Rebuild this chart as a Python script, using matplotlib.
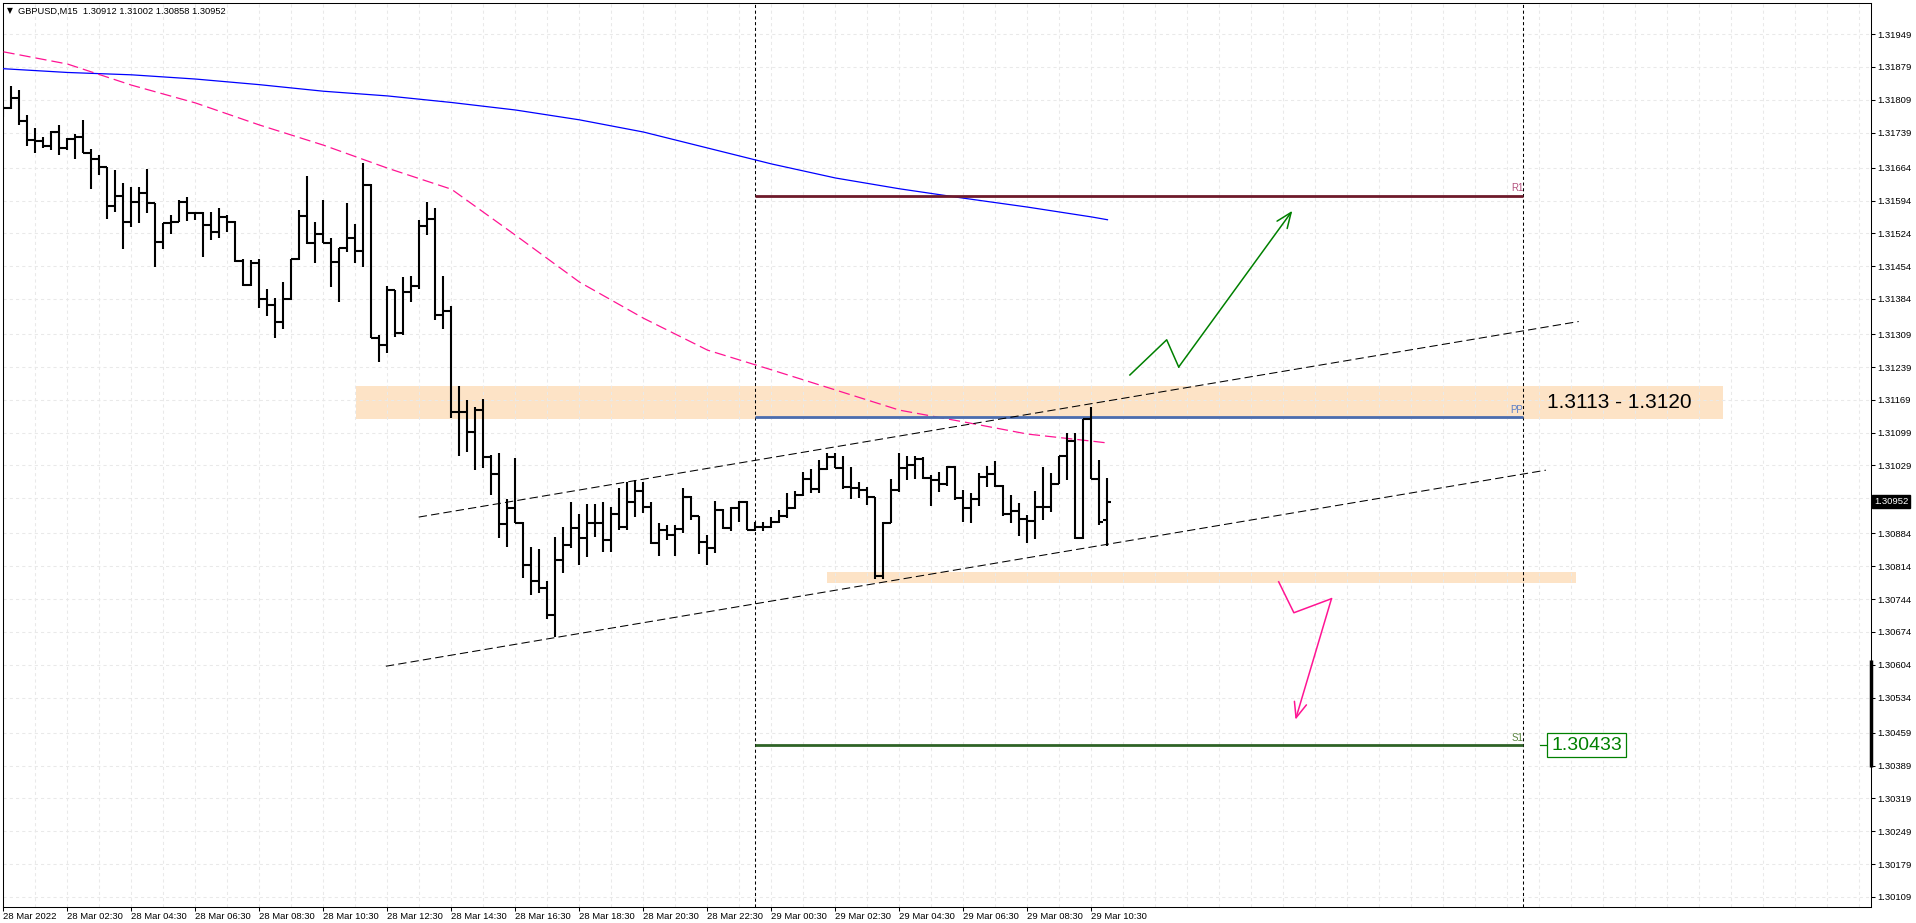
import matplotlib
matplotlib.use("Agg")
import matplotlib.pyplot as plt
from matplotlib.collections import LineCollection
from matplotlib.patches import Rectangle
from matplotlib.transforms import blended_transform_factory

plt.rcParams['font.family'] = ['Liberation Sans', 'DejaVu Sans']

# ---- data (GBPUSD M15) ----
header = "GBPUSD,M15  1.30912 1.31002 1.30858 1.30952"

opens = [1.31778, 1.31791, 1.31813, 1.31764, 1.31723, 1.31721, 1.31710, 1.31740, 1.31706, 1.31725,
         1.31729, 1.31695, 1.31682, 1.31665, 1.31582, 1.31604, 1.31548, 1.31591, 1.31610, 1.31589,
         1.31506, 1.31546, 1.31548, 1.31591, 1.31567, 1.31567, 1.31542, 1.31527, 1.31559, 1.31548,
         1.31465, 1.31414, 1.31461, 1.31384, 1.31371, 1.31335, 1.31384, 1.31469, 1.31561, 1.31503,
         1.31523, 1.31503, 1.31463, 1.31493, 1.31514, 1.31486, 1.31627, 1.31301, 1.31286, 1.31403,
         1.31311, 1.31399, 1.31412, 1.31540, 1.31555, 1.31350, 1.31358, 1.31144, 1.31144, 1.31100,
         1.31147, 1.31047, 1.31011, 1.30904, 1.30938, 1.30906, 1.30817, 1.30783, 1.30768, 1.30710,
         1.30827, 1.30859, 1.30896, 1.30874, 1.30906, 1.30906, 1.30870, 1.30926, 1.30898, 1.30951,
         1.30975, 1.30940, 1.30864, 1.30891, 1.30881, 1.30894, 1.30962, 1.30921, 1.30866, 1.30853,
         1.30934, 1.30896, 1.30938, 1.30951, 1.30891, 1.30898, 1.30898, 1.30909, 1.30921, 1.30938,
         1.30966, 1.31000, 1.30979, 1.31022, 1.31047, 1.31024, 1.30983, 1.30981, 1.30977, 1.30962,
         1.30793, 1.30906, 1.30977, 1.31024, 1.31030, 1.31043, 1.31002, 1.30998, 1.30990, 1.31026,
         1.30960, 1.30938, 1.30958, 1.31004, 1.31011, 1.30985, 1.30926, 1.30932, 1.30915, 1.30911,
         1.30940, 1.30940, 1.30990, 1.31049, 1.31081, 1.30874, 1.31128, 1.31000, 1.30912]
highs = [1.31796, 1.31838, 1.31830, 1.31776, 1.31749, 1.31729, 1.31742, 1.31755, 1.31727, 1.31736,
         1.31766, 1.31704, 1.31691, 1.31665, 1.31659, 1.31631, 1.31623, 1.31623, 1.31661, 1.31589,
         1.31546, 1.31563, 1.31595, 1.31601, 1.31569, 1.31569, 1.31569, 1.31578, 1.31563, 1.31550,
         1.31469, 1.31467, 1.31469, 1.31405, 1.31386, 1.31420, 1.31469, 1.31574, 1.31646, 1.31548,
         1.31595, 1.31514, 1.31493, 1.31589, 1.31544, 1.31674, 1.31629, 1.31307, 1.31412, 1.31403,
         1.31431, 1.31433, 1.31552, 1.31591, 1.31578, 1.31433, 1.31369, 1.31198, 1.31169, 1.31154,
         1.31171, 1.31051, 1.31056, 1.30958, 1.31045, 1.30909, 1.30855, 1.30851, 1.30783, 1.30876,
         1.30898, 1.30951, 1.30926, 1.30947, 1.30947, 1.30951, 1.30940, 1.30981, 1.30994, 1.30998,
         1.30994, 1.30951, 1.30906, 1.30902, 1.30902, 1.30981, 1.30964, 1.30921, 1.30881, 1.30953,
         1.30936, 1.30940, 1.30953, 1.30953, 1.30909, 1.30909, 1.30919, 1.30934, 1.30970, 1.30975,
         1.31015, 1.31022, 1.31041, 1.31056, 1.31056, 1.31049, 1.31026, 1.30994, 1.30983, 1.30962,
         1.30909, 1.31000, 1.31056, 1.31049, 1.31049, 1.31047, 1.31009, 1.31015, 1.31028, 1.31028,
         1.30977, 1.30970, 1.31013, 1.31028, 1.31039, 1.30987, 1.30966, 1.30949, 1.30923, 1.30975,
         1.31026, 1.31013, 1.31049, 1.31098, 1.31098, 1.31128, 1.31154, 1.31041, 1.31002]
lows = [1.31772, 1.31789, 1.31755, 1.31710, 1.31695, 1.31706, 1.31702, 1.31691, 1.31702, 1.31682,
        1.31695, 1.31619, 1.31648, 1.31555, 1.31569, 1.31491, 1.31537, 1.31546, 1.31567, 1.31452,
        1.31491, 1.31523, 1.31548, 1.31550, 1.31552, 1.31474, 1.31510, 1.31514, 1.31527, 1.31463,
        1.31412, 1.31412, 1.31365, 1.31348, 1.31301, 1.31320, 1.31382, 1.31467, 1.31501, 1.31461,
        1.31503, 1.31410, 1.31378, 1.31484, 1.31461, 1.31452, 1.31301, 1.31250, 1.31269, 1.31303,
        1.31307, 1.31378, 1.31405, 1.31520, 1.31339, 1.31320, 1.31130, 1.31049, 1.31058, 1.31019,
        1.31024, 1.30966, 1.30874, 1.30855, 1.30906, 1.30789, 1.30753, 1.30757, 1.30702, 1.30663,
        1.30800, 1.30853, 1.30817, 1.30834, 1.30876, 1.30845, 1.30845, 1.30891, 1.30891, 1.30919,
        1.30928, 1.30862, 1.30836, 1.30870, 1.30836, 1.30885, 1.30913, 1.30840, 1.30817, 1.30842,
        1.30894, 1.30889, 1.30909, 1.30891, 1.30889, 1.30889, 1.30896, 1.30906, 1.30917, 1.30936,
        1.30964, 1.30970, 1.30970, 1.31019, 1.31024, 1.30979, 1.30958, 1.30960, 1.30945, 1.30787,
        1.30787, 1.30906, 1.30972, 1.30998, 1.31000, 1.31000, 1.30943, 1.30972, 1.30985, 1.30955,
        1.30909, 1.30906, 1.30943, 1.30983, 1.30983, 1.30921, 1.30906, 1.30879, 1.30864, 1.30872,
        1.30913, 1.30930, 1.30990, 1.30998, 1.30872, 1.30872, 1.31000, 1.30902, 1.30858]
closes = [1.31791, 1.31813, 1.31764, 1.31723, 1.31721, 1.31710, 1.31740, 1.31706, 1.31725, 1.31729,
          1.31695, 1.31682, 1.31665, 1.31582, 1.31604, 1.31548, 1.31591, 1.31610, 1.31589, 1.31506,
          1.31546, 1.31548, 1.31591, 1.31567, 1.31567, 1.31542, 1.31527, 1.31559, 1.31548, 1.31465,
          1.31414, 1.31461, 1.31384, 1.31371, 1.31335, 1.31384, 1.31469, 1.31561, 1.31503, 1.31523,
          1.31503, 1.31463, 1.31493, 1.31514, 1.31486, 1.31627, 1.31301, 1.31286, 1.31403, 1.31311,
          1.31399, 1.31412, 1.31540, 1.31555, 1.31350, 1.31358, 1.31144, 1.31144, 1.31100, 1.31147,
          1.31047, 1.31011, 1.30904, 1.30938, 1.30906, 1.30817, 1.30783, 1.30768, 1.30710, 1.30827,
          1.30859, 1.30896, 1.30874, 1.30906, 1.30906, 1.30870, 1.30926, 1.30898, 1.30951, 1.30975,
          1.30940, 1.30864, 1.30891, 1.30881, 1.30894, 1.30962, 1.30921, 1.30866, 1.30853, 1.30934,
          1.30896, 1.30938, 1.30951, 1.30891, 1.30898, 1.30898, 1.30909, 1.30921, 1.30938, 1.30966,
          1.31000, 1.30979, 1.31022, 1.31047, 1.31024, 1.30983, 1.30981, 1.30977, 1.30962, 1.30793,
          1.30906, 1.30977, 1.31024, 1.31030, 1.31043, 1.31002, 1.30998, 1.30990, 1.31026, 1.30960,
          1.30938, 1.30958, 1.31004, 1.31011, 1.30985, 1.30926, 1.30932, 1.30915, 1.30911, 1.30940,
          1.30940, 1.30990, 1.31049, 1.31081, 1.30874, 1.31128, 1.31000, 1.30909, 1.30952]

# moving averages, read every 8 bars
ma_bars = [0, 8, 16, 24, 32, 40, 48, 56, 64, 72, 80, 88, 96, 104, 112, 120, 128, 136, 138]
ma_slow = [1.31875, 1.31867, 1.31862, 1.31853, 1.31841, 1.31827, 1.31817, 1.31803, 1.31787, 1.31766,
           1.31740, 1.31706, 1.31672, 1.31642, 1.31619, 1.31599, 1.31580, 1.31559, 1.31553]
ma_fast = [1.31911, 1.31885, 1.31840, 1.31802, 1.31755, 1.31712, 1.31663, 1.31618, 1.31520, 1.31420,
           1.31343, 1.31275, 1.31233, 1.31190, 1.31147, 1.31122, 1.31096, 1.31081, 1.31077]

# pivots (drawn for the current day)
pivot_names = ["R1", "PP", "S1"]
pivot_levels = [1.31604, 1.31132, 1.30433]
pivot_colors = ["#6E1A2A", "#4A6DB0", "#2F6327"]
pivot_label_colors = ["#B4527E", "#5B7FC6", "#5A8440"]
pivot_start, pivot_end = 94, 190
day_breaks = [94, 190]

# zones: (bar from, bar to, price low, price high)
zone_top = (44.1, 214.9, 1.31128, 1.31199)
zone_bottom = (102.9, 196.6, 1.30779, 1.30802)
zone_text = "1.3113 - 1.3120"

# channel lines: (bar0, price0, bar1, price1)
channel_upper = (51.9, 1.30919, 196.9, 1.31336)
channel_lower = (47.8, 1.30601, 192.8, 1.31019)

# hand-drawn scenario arrows
up_bars = [140.8, 145.4, 146.9, 161.1]
up_prices = [1.31222, 1.31297, 1.31239, 1.31572]
down_bars = [159.4, 161.3, 166.0, 161.5]
down_prices = [1.30781, 1.30715, 1.30745, 1.30487]

price_ticks = [1.31949, 1.31879, 1.31809, 1.31739, 1.31664, 1.31594, 1.31524, 1.31454, 1.31384,
               1.31309, 1.31239, 1.31169, 1.31099, 1.31029, 1.30959, 1.30884, 1.30814, 1.30744,
               1.30674, 1.30604, 1.30534, 1.30459, 1.30389, 1.30319, 1.30249, 1.30179, 1.30109]
time_ticks = list(range(0, 137, 8))
time_labels = ["28 Mar 2022", "28 Mar 02:30", "28 Mar 04:30", "28 Mar 06:30", "28 Mar 08:30",
               "28 Mar 10:30", "28 Mar 12:30", "28 Mar 14:30", "28 Mar 16:30", "28 Mar 18:30",
               "28 Mar 20:30", "28 Mar 22:30", "29 Mar 00:30", "29 Mar 02:30", "29 Mar 04:30",
               "29 Mar 06:30", "29 Mar 08:30", "29 Mar 10:30"]
last_price = 1.30952

W, H = 1916, 923
fig = plt.figure(figsize=(W / 100, H / 100), dpi=100)
ax = fig.add_axes([2.5 / W, 16 / H, (1871 - 2.5) / W, (920.5 - 16) / H])
ax.set_xlim(-0.125, 233.44)
ax.set_ylim(1.300876, 1.320162)

# grid
for p in price_ticks:
    ax.axhline(p, color="#E9E9E9", lw=0.75, dashes=(3, 3), zorder=0.5)
for b in range(0, 233, 4):
    ax.axvline(b, color="#E9E9E9", lw=0.75, dashes=(3, 3), zorder=0.5)

# zones
for z in (zone_top, zone_bottom):
    ax.add_patch(Rectangle((z[0], z[2]), z[1] - z[0], z[3] - z[2],
                           fc="#FDE3C6", ec="none", zorder=0.3))
ax.text((zone_top[0] + zone_top[1]) / 2 + 72.5, (zone_top[2] + zone_top[3]) / 2, zone_text,
        fontsize=15, ha="center", va="center", color="black", zorder=5)

# day separators
for b in day_breaks:
    ax.axvline(b, color="black", lw=0.75, dashes=(3, 2.5), zorder=2)

# moving averages
ax.plot(ma_bars, ma_slow, color="#0000FF", lw=0.9, zorder=3)
ax.plot(ma_bars, ma_fast, color="#FF1493", lw=0.9, dashes=(9, 4), zorder=3)

# pivots
for name, lvl, col, lcol in zip(pivot_names, pivot_levels, pivot_colors, pivot_label_colors):
    ax.plot([pivot_start, pivot_end], [lvl, lvl], color=col, lw=2, solid_capstyle="butt", zorder=3)
    ax.annotate(name, (pivot_end, lvl), xytext=(0, 1.8), textcoords="offset points",
                ha="right", va="bottom", fontsize=7, color=lcol, zorder=5)

# channel
for c in (channel_upper, channel_lower):
    ax.plot([c[0], c[2]], [c[1], c[3]], color="black", lw=0.75, dashes=(8, 4), zorder=3)

# OHLC bars
segs = []
for i in range(len(opens)):
    segs.append([(i, lows[i]), (i, highs[i])])
    segs.append([(i - 0.5, opens[i]), (i, opens[i])])
    segs.append([(i, closes[i]), (i + 0.5, closes[i])])
ax.add_collection(LineCollection(segs, colors="black", linewidths=1.5, capstyle="butt", zorder=4))

# arrows
ax.plot(up_bars[:-1], up_prices[:-1], color="#008000", lw=1.1, zorder=4)
ax.annotate("", xy=(up_bars[-1], up_prices[-1]), xytext=(up_bars[-2], up_prices[-2]),
            arrowprops=dict(arrowstyle="->,head_length=1.1,head_width=0.45", color="#008000",
                            lw=1.1, shrinkA=0, shrinkB=0), zorder=4)
ax.plot(down_bars[:-1], down_prices[:-1], color="#FF1493", lw=1.1, zorder=4)
ax.annotate("", xy=(down_bars[-1], down_prices[-1]), xytext=(down_bars[-2], down_prices[-2]),
            arrowprops=dict(arrowstyle="->,head_length=1.1,head_width=0.45", color="#FF1493",
                            lw=1.1, shrinkA=0, shrinkB=0), zorder=4)

# S1 price label box
s1 = pivot_levels[2]
ax.plot([192.1, 193.3], [s1, s1], color="#008000", lw=0.9, zorder=4)
ax.text(197.9, s1, f"{s1:.5f}", fontsize=14, color="#008000", ha="center", va="center",
        bbox=dict(boxstyle="square,pad=0.2", fc="white", ec="#008000", lw=0.9), zorder=5)

# axes styling
for sp in ax.spines.values():
    sp.set_color("black")
    sp.set_linewidth(0.75)
ax.yaxis.tick_right()
ax.set_yticks(price_ticks)
ax.set_yticklabels([f"{p:.5f}" for p in price_ticks])
ax.set_xticks(time_ticks)
ax.set_xticklabels(time_labels)
for lbl in ax.get_xticklabels():
    lbl.set_horizontalalignment("left")
ax.tick_params(axis="y", length=3, width=0.75, pad=1.5, labelsize=6.8)
ax.tick_params(axis="x", length=3, width=0.75, pad=0.8, labelsize=6.8)

# price-scale marker and current price tag
ax.plot([ax.get_xlim()[1]] * 2, [1.30386, 1.30614], color="black", lw=2.5,
        solid_capstyle="butt", clip_on=False, zorder=6)
tr = blended_transform_factory(fig.transFigure, ax.transData)
fig.text(1874 / W, last_price, f"{last_price:.5f}", transform=tr, fontsize=6.8, color="white",
         ha="left", va="center", bbox=dict(boxstyle="square,pad=0.2", fc="black", ec="black"))

# header
fig.text(7 / W, 1 - 11 / H, "\u25BC", fontsize=5.5, family=["DejaVu Sans"], va="center")
fig.text(18 / W, 1 - 11 / H, header, fontsize=6.7, va="center")

fig.savefig("out.png", dpi=100)
